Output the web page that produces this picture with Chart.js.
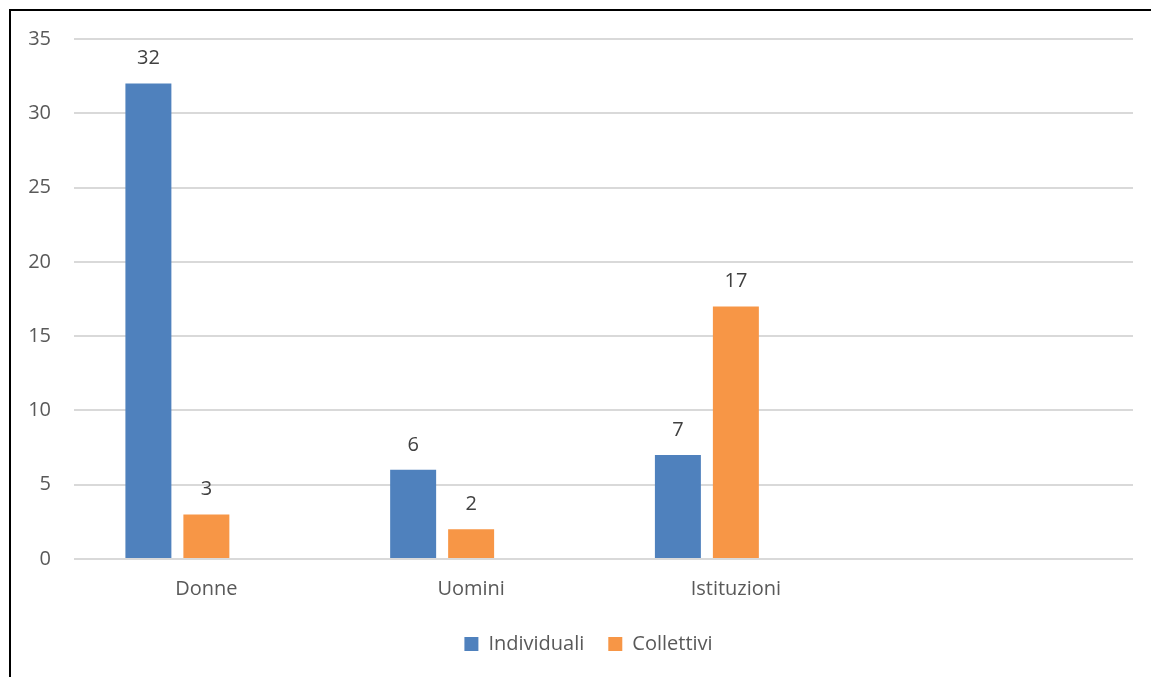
<!DOCTYPE html>
<html>
<head>
<meta charset="utf-8">
<script src="https://cdn.jsdelivr.net/npm/chart.js@4/dist/chart.umd.min.js"></script>
<style>
  html, body { margin: 0; padding: 0; background: #fff; overflow: hidden; }
  #box { position: relative; width: 1151px; height: 677px; }
  #grafico { position: absolute; left: 0; top: 0; }
  /* cornice nera, visibile solo su lato sinistro e superiore */
  #cornice { position: absolute; left: 9px; top: 9px; width: 1200px; height: 720px;
             border-left: 2px solid #000; border-top: 2px solid #000; pointer-events: none; }
</style>
</head>
<body>
<div id="box">
  <canvas id="grafico" width="1151" height="677"></canvas>
  <div id="cornice"></div>
</div>
<script>
// categorie sull'asse x (l'ultima e' vuota)
const categorie = ["Donne", "Uomini", "Istituzioni", ""];
// serie
const individuali = [32, 6, 7, null];
const collettivi = [3, 2, 17, null];
const terzaSerie = [null, null, null, null]; // serie vuota, occupa il terzo posto nel gruppo
// asse y
const yMin = 0;
const yMax = 35;
const yPasso = 5;

const font = '"Open Sans", "DejaVu Sans", sans-serif';
const grigio = "#595959";

// scrive il valore sopra ogni barra
const etichette = {
  id: "etichette",
  afterDatasetsDraw(chart) {
    const ctx = chart.ctx;
    ctx.save();
    ctx.font = `20px ${font}`;
    ctx.fillStyle = "#404040";
    ctx.textAlign = "center";
    ctx.textBaseline = "middle";
    chart.data.datasets.forEach((ds, i) => {
      chart.getDatasetMeta(i).data.forEach((bar, j) => {
        const v = ds.data[j];
        if (v == null) return;
        ctx.fillText(v, bar.x, bar.y - 25);
      });
    });
    ctx.restore();
  },
};

// sposta un po' a destra la legenda
const spostaLegenda = {
  id: "spostaLegenda",
  afterLayout(chart) {
    const l = chart.legend;
    if (!l) return;
    l.left += 12;
    l.right += 12;
  },
};

const grafica = document.getElementById("grafico");
new Chart(grafica, {
  type: "bar",
  data: {
    labels: categorie,
    datasets: [
      { label: "Individuali", data: individuali, backgroundColor: "#4f81bd" },
      { label: "Collettivi", data: collettivi, backgroundColor: "#f79646" },
      { label: "", data: terzaSerie, backgroundColor: "#a5a5a5" },
    ],
  },
  options: {
    responsive: false,
    animation: false,
    devicePixelRatio: 1,
    barPercentage: 0.793,
    categoryPercentage: 0.657,
    layout: { padding: { left: 20, right: 18, top: 39, bottom: 13 } },
    plugins: {
      tooltip: { enabled: false },
      legend: {
        position: "bottom",
        labels: {
          font: { family: font, size: 20 },
          color: grigio,
          boxWidth: 14,
          boxHeight: 14,
          padding: 24,
          filter: (item) => item.text !== "",
        },
      },
    },
    scales: {
      x: {
        grid: { display: false, drawTicks: false },
        border: { display: false },
        ticks: { font: { family: font, size: 20 }, color: grigio, padding: 18 },
        afterFit: (scale) => { scale.height = 51; },
      },
      y: {
        min: yMin,
        max: yMax,
        grid: { color: "#d9d9d9", lineWidth: 2, drawTicks: false },
        border: { display: false },
        ticks: { stepSize: yPasso, font: { family: font, size: 20 }, color: grigio, padding: 23 },
        afterFit: (scale) => { scale.width = 54; },
      },
    },
  },
  plugins: [etichette, spostaLegenda],
});
</script>
</body>
</html>
